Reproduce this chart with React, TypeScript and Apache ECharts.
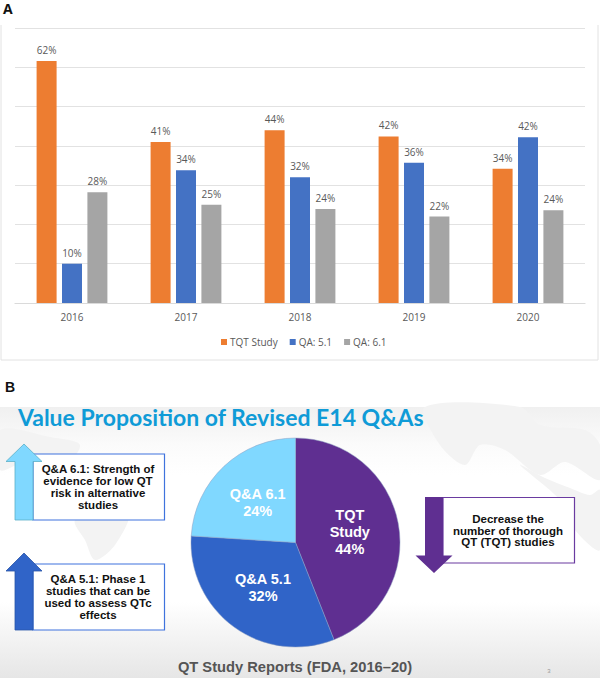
import React, { useEffect, useRef } from "react";
import * as echarts from "echarts";

const years = ["2016", "2017", "2018", "2019", "2020"];
const tqt = [61.6, 41, 44, 42.4, 34.2];
const qa51 = [10, 33.8, 32, 35.7, 42.2];
const qa61 = [28.2, 25, 23.9, 22, 23.6];
const legendNames = ["TQT Study", "QA: 5.1", "QA: 6.1"];
const pieNames = ["TQT\nStudy", "Q&A 5.1", "Q&A 6.1"];
const pieValues = [44, 32, 24];
const box61 = "Q&A 6.1: Strength of\nevidence for low QT\nrisk in alternative\nstudies";
const box51 = "Q&A 5.1: Phase 1\nstudies that can be\nused to assess QTc\neffects";
const boxTqt = "Decrease the\nnumber of thorough\nQT (TQT) studies";
const slideTitle = "Value Proposition of Revised E14 Q&As";
const slideCaption = "QT Study Reports (FDA, 2016–20)";

const ORANGE = "#ED7D31";
const BLUE = "#4472C4";
const GREY = "#A5A5A5";
const PURPLE = "#5F2F91";
const ROYAL = "#3064C8";
const SKY = "#80D8FF";
const LABEL_FONT = "Open Sans";

const land = (points: number[][]) => ({
  type: "polygon",
  z: -9,
  shape: { points, smooth: 0.3 },
  style: { fill: "#F3F3F3" },
});

const boxText = (text: string, x: number, y: number) => ({
  type: "text",
  z: 8,
  x,
  y,
  style: {
    text,
    fill: "#111",
    font: "bold 11.5px 'Liberation Sans'",
    textAlign: "center",
    textVerticalAlign: "middle",
    lineHeight: 11.8,
  },
});

const box = (x: number, y: number, width: number, height: number, stroke: string) => ({
  type: "rect",
  z: 5,
  shape: { x, y, width, height },
  style: { fill: "#fff", stroke, lineWidth: 1.2 },
});

const arrowUp = (tipY: number, baseY: number, endY: number, fill: string, stroke: string) => ({
  type: "polygon",
  z: 6,
  shape: {
    points: [[24, tipY], [42, baseY], [33, baseY], [33, endY], [15, endY], [15, baseY], [6, baseY]],
  },
  style: { fill, stroke, lineWidth: 0.8 },
});

const option = {
  animation: false,
  textStyle: { fontFamily: LABEL_FONT },
  grid: { left: 15, right: 15, top: 28, bottom: 377 },
  legend: {
    data: legendNames,
    left: 216,
    top: 332,
    itemWidth: 6,
    itemHeight: 6,
    itemGap: 12,
    icon: "rect",
    textStyle: { color: "#595959", fontSize: 10, fontFamily: LABEL_FONT, padding: [0, 0, 0, -2] },
  },
  xAxis: {
    type: "category",
    data: years,
    axisTick: { show: false },
    axisLine: { lineStyle: { color: "#DADADA", width: 1.2 } },
    axisLabel: { color: "#595959", fontSize: 10, margin: 9, fontFamily: LABEL_FONT },
  },
  yAxis: {
    type: "value",
    min: 0,
    max: 70,
    interval: 10,
    axisLabel: { show: false },
    axisLine: { show: false },
    axisTick: { show: false },
    splitLine: { lineStyle: { color: "#E2E2E2", width: 1.2 } },
  },
  series: [
    ...[
      { name: legendNames[0], data: tqt, color: ORANGE },
      { name: legendNames[1], data: qa51, color: BLUE },
      { name: legendNames[2], data: qa61, color: GREY },
    ].map((s) => ({
      type: "bar",
      name: s.name,
      data: s.data,
      barWidth: 20,
      barGap: "27%",
      itemStyle: { color: s.color },
      label: {
        show: true,
        position: "top",
        distance: 6,
        color: "#595959",
        fontSize: 10,
        fontFamily: LABEL_FONT,
        formatter: (p: any) => `${Math.round(p.value)}%`,
      },
    })),
    {
      type: "pie",
      center: [295.5, 542.5],
      radius: [0, 104.5],
      startAngle: 90,
      clockwise: true,
      data: pieNames.map((name, i) => ({
        name,
        value: pieValues[i],
        itemStyle: { color: [PURPLE, ROYAL, SKY][i] },
      })),
      itemStyle: { borderColor: "#8a9cc0", borderWidth: 0.5 },
      labelLine: { show: false },
      label: {
        position: "inside",
        color: "#fff",
        fontFamily: "Liberation Sans",
        fontWeight: "bold",
        fontSize: 14.5,
        lineHeight: 17,
        formatter: (p: any) => `${p.name}\n${p.value}%`,
      },
      emphasis: { disabled: true },
    },
  ],
  graphic: {
    elements: [
      {
        type: "rect",
        z: -10,
        shape: { x: 1, y: 24, width: 597, height: 336 },
        style: { fill: "#fff", stroke: "#E2E2E2", lineWidth: 1 },
      },
      { type: "rect", z: -9, shape: { x: 0, y: 20, width: 600, height: 5 }, style: { fill: "#fff" } },
      {
        type: "rect",
        z: -10,
        shape: { x: 0, y: 407, width: 600, height: 271 },
        style: {
          fill: {
            type: "linear",
            x: 0,
            y: 0,
            x2: 0,
            y2: 1,
            colorStops: [
              { offset: 0, color: "#F0F0F0" },
              { offset: 0.14, color: "#FBFBFB" },
              { offset: 0.25, color: "#FFFFFF" },
              { offset: 0.72, color: "#FFFFFF" },
              { offset: 1, color: "#E6E6E6" },
            ],
          },
        },
      },
      land([[425, 407], [520, 407], [540, 425], [585, 430], [600, 445], [600, 480], [565, 462], [540, 475], [505, 450], [480, 445], [465, 465], [440, 445]]),
      land([[520, 465], [545, 478], [570, 488], [590, 495], [600, 490], [600, 550], [575, 530], [560, 500]]),
      land([[75, 520], [110, 505], [130, 512], [115, 545], [95, 560], [85, 540]]),
      land([[0, 430], [50, 437], [80, 445], [60, 470], [30, 460], [0, 470]]),
      {
        type: "text",
        z: 9,
        x: 3,
        y: 8,
        style: { text: "A", fill: "#111", font: "bold 14px 'Open Sans'", textVerticalAlign: "middle" },
      },
      {
        type: "text",
        z: 9,
        x: 5,
        y: 387,
        style: { text: "B", fill: "#111", font: "bold 14px 'Liberation Sans'", textVerticalAlign: "middle" },
      },
      {
        type: "text",
        z: 9,
        x: 18,
        y: 417,
        style: { text: slideTitle, fill: "#0F9BD7", font: "bold 23px 'Lato'", textVerticalAlign: "middle" },
      },
      {
        type: "text",
        z: 9,
        x: 295,
        y: 666.5,
        style: {
          text: slideCaption,
          fill: "#555",
          font: "bold 14.7px 'Liberation Sans'",
          textAlign: "center",
          textVerticalAlign: "middle",
        },
      },
      {
        type: "text",
        z: 9,
        x: 549,
        y: 671,
        style: { text: "3", fill: "#999", font: "6px 'Liberation Sans'", textAlign: "center", textVerticalAlign: "middle" },
      },
      box(33, 454, 131.5, 66, "#3F73DD"),
      arrowUp(444, 461.5, 520, SKY, "#5BB0C8"),
      boxText(box61, 98, 487),
      box(33, 564, 131.5, 66, "#3F73DD"),
      arrowUp(553, 571, 630, ROYAL, "#2A55A8"),
      boxText(box51, 98, 597),
      box(443, 497.5, 131.5, 65.5, "#6A3BA0"),
      {
        type: "polygon",
        z: 6,
        shape: {
          points: [[425, 497], [443, 497], [443, 555.5], [452.5, 555.5], [434, 573], [415.5, 555.5], [425, 555.5]],
        },
        style: { fill: PURPLE },
      },
      boxText(boxTqt, 508, 530.5),
    ],
  },
};

export default function App() {
  const ref = useRef<HTMLDivElement>(null);
  useEffect(() => {
    const chart = echarts.init(ref.current!, null, { renderer: "svg" });
    chart.setOption(option as any);
    return () => chart.dispose();
  }, []);
  return <div ref={ref} style={{ position: "absolute", left: 0, top: 0, width: 600, height: 680 }} />;
}
